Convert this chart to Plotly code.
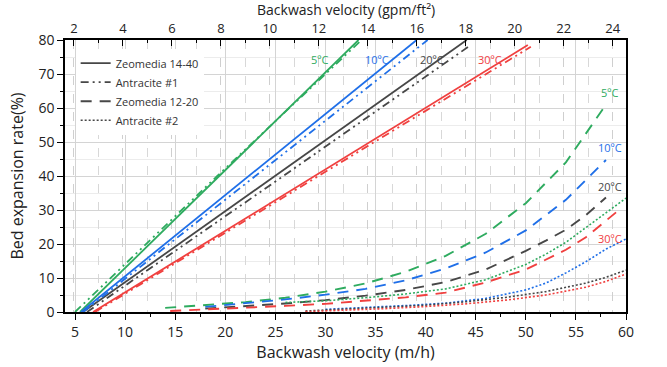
import plotly.graph_objects as go

# ---------------- data ----------------
temps = ["5ºC", "10ºC", "20ºC", "30ºC"]
colors = ["#2eab5f", "#1f6fe8", "#474747", "#f0403f"]

# Zeomedia 14-40 (solid)
z1440_x = [[5.5, 19.4, 33.3], [5.6, 22.4, 39.1], [5.8, 25.0, 44.1], [6.8, 28.9, 50.2]]
z1440_y = [[0, 40, 80], [0, 40, 80], [0, 40, 80], [0, 40, 78.5]]

# Antracite #1 (dash-dot)
a1_x = [[5.0, 19.2, 33.6], [5.8, 23.0, 40.2], [6.2, 25.8, 44.5], [7.0, 29.3, 50.5]]
a1_y = [[0, 40, 80], [0, 40, 80], [0, 40, 78.5], [0, 40, 78]]

# Zeomedia 12-20 (long dash)
z1220_x = [
    [14, 18, 22, 26, 30, 34, 38, 42, 46, 50, 54, 58],
    [18, 22, 26, 30, 34, 38, 42, 46, 50, 54, 58],
    [18, 22, 26, 30, 34, 38, 42, 46, 50, 52, 54, 56, 58],
    [14.5, 18, 22, 26, 30, 34, 38, 42, 46, 50, 54, 56, 58, 59.5],
]
z1220_y = [
    [1.2, 2.0, 2.9, 4.2, 6.0, 8.4, 11.8, 16.5, 23.0, 32.0, 44.0, 61.0],
    [1.5, 2.5, 3.7, 5.1, 6.8, 9.3, 12.8, 17.5, 24.0, 33.0, 44.7],
    [1.0, 1.7, 2.5, 3.5, 4.8, 6.5, 8.8, 12.5, 18.0, 21.0, 24.2, 28.5, 33.7],
    [0.3, 0.7, 1.2, 1.8, 2.4, 3.3, 4.3, 5.7, 8.7, 12.5, 18.3, 22.0, 27.0, 30.5],
]

# Antracite #2 (dotted)
a2_x = [
    [26, 30, 34, 38, 42, 46, 50, 52, 54, 56, 58, 60],
    [30, 34, 38, 42, 46, 50, 52, 54, 56, 58, 60],
    [28, 32, 36, 40, 44, 48, 52, 56, 58, 60],
    [28, 32, 36, 40, 44, 48, 52, 56, 58, 60],
]
a2_y = [
    [2.8, 3.3, 4.2, 5.3, 6.8, 9.5, 14.0, 17.0, 20.5, 24.8, 29.0, 33.5],
    [0.8, 1.3, 1.9, 2.6, 4.0, 6.5, 8.5, 11.5, 14.8, 18.5, 21.5],
    [0.3, 0.8, 1.3, 2.0, 3.0, 4.3, 6.0, 8.5, 10.2, 12.3],
    [0.1, 0.5, 1.0, 1.6, 2.4, 3.5, 5.0, 7.3, 9.0, 11.2],
]

legend_names = ["Zeomedia 14-40", "Antracite #1", "Zeomedia 12-20", "Antracite #2"]
top_title = "Backwash velocity (gpm/ft²)"

M3H_PER_GPMFT2 = 2.445
X_RANGE = [4, 60]
Y_RANGE = [0, 80]

# ---------------- styles ----------------
FONT = "Open Sans"
dash_styles = ["solid", "8px,4px,2px,4px,2px,4px", "11px,8px", "2px,2px"]
widths = [1.8, 1.8, 1.9, 1.6]

fig = go.Figure()

groups = [(z1440_x, z1440_y), (a1_x, a1_y), (z1220_x, z1220_y), (a2_x, a2_y)]
for g, (xs, ys) in enumerate(groups):
    for i in range(4):
        fig.add_trace(go.Scatter(
            x=xs[i], y=ys[i], mode="lines",
            line=dict(color=colors[i], width=widths[g], dash=dash_styles[g]),
            showlegend=False, hoverinfo="skip",
        ))

# legend entries (dark gray samples)
for g, name in enumerate(legend_names):
    fig.add_trace(go.Scatter(
        x=[None], y=[None], mode="lines", name=name, legendgroup=name,
        line=dict(color="#474747", width=widths[g], dash=dash_styles[g]),
    ))

# empty trace that carries the top axis
fig.add_trace(go.Scatter(x=[None], y=[None], xaxis="x2", showlegend=False,
                         hoverinfo="skip"))

# temperature labels
top_label_x = [29.4, 35.1, 40.6, 46.4]
right_label_y = [64.6, 48.3, 37.0, 21.6]
for i in range(4):
    fig.add_annotation(x=top_label_x[i], y=74.4, text=temps[i], showarrow=False,
                       font=dict(family=FONT, size=11, color=colors[i]))
    fig.add_annotation(x=58.4, y=right_label_y[i], text=temps[i], showarrow=False,
                       font=dict(family=FONT, size=11, color=colors[i]))

# top axis title
fig.add_annotation(x=0.5, y=1, xref="paper", yref="paper", xanchor="center",
                   yanchor="bottom", yshift=19, showarrow=False, text=top_title,
                   font=dict(family=FONT, size=14, color="#222"))

axis_font = dict(family=FONT, size=14, color="#222")
top_axis_font = dict(family=FONT, size=13, color="#222")
title_font = dict(family=FONT, size=16, color="#222")

fig.update_layout(
    width=667, height=367,
    margin=dict(l=65, r=41, t=40, b=55),
    paper_bgcolor="white", plot_bgcolor="white",
    font=dict(family=FONT),
    showlegend=True,
    legend=dict(x=0.019, y=0.968, xanchor="left", yanchor="top",
                bgcolor="white", borderwidth=0,
                font=dict(family=FONT, size=11, color="#333"),
                tracegroupgap=0),
    xaxis=dict(
        range=X_RANGE, tick0=5, dtick=5, showline=True, linecolor="black",
        linewidth=1.6, ticks="outside", ticklen=6, tickwidth=1.2, tickcolor="black",
        showgrid=True, gridcolor="#d4d4d4", gridwidth=1, zeroline=False,
        tickfont=axis_font, automargin=False,
        title=dict(text="Backwash velocity (m/h)", font=title_font, standoff=2),
        minor=dict(dtick=2.5, tick0=5, ticks="outside", ticklen=3, tickcolor="black",
                   showgrid=False),
    ),
    xaxis2=dict(
        overlaying="x", side="top", anchor="y",
        range=[X_RANGE[0] / M3H_PER_GPMFT2, X_RANGE[1] / M3H_PER_GPMFT2],
        tick0=0, dtick=2, showline=True, linecolor="black", linewidth=1.6,
        ticks="inside", ticklen=6, tickwidth=1.2, tickcolor="black",
        showgrid=True, gridcolor="#cfcfcf", griddash="dash", gridwidth=1,
        zeroline=False, tickfont=top_axis_font, automargin=False,
        minor=dict(dtick=1, tick0=0, ticks="inside", ticklen=3, tickcolor="black",
                   showgrid=True, gridcolor="#d8d8d8", griddash="dash"),
    ),
    yaxis=dict(
        range=Y_RANGE, dtick=10, showline=True, linecolor="black", linewidth=1.6,
        mirror=True, ticks="outside", ticklen=6, tickwidth=1.2, tickcolor="black",
        showgrid=True, gridcolor="#d4d4d4", zeroline=False, tickfont=axis_font,
        automargin=False,
        title=dict(text="Bed expansion rate(%)", font=title_font, standoff=11),
        minor=dict(dtick=5, ticks="outside", ticklen=3, tickcolor="black",
                   showgrid=True, gridcolor="#ececec"),
    ),
)

fig.write_html("out.html", config={"displayModeBar": False},
               post_script="document.body.style.margin='0';")
